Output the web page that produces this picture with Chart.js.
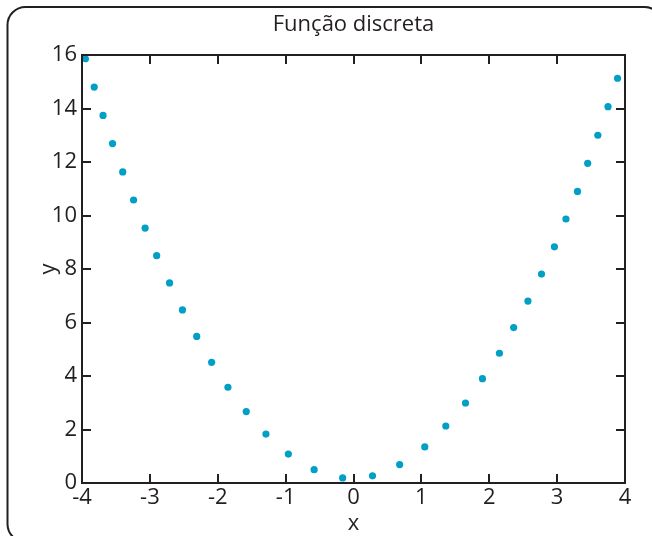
<!DOCTYPE html>
<html>
<head>
<meta charset="utf-8">
<script src="https://cdn.jsdelivr.net/npm/chart.js@4"></script>
<style>
  html, body { margin: 0; padding: 0; background: #ffffff; }
  #wrap { width: 652px; height: 536px; position: relative; }
</style>
</head>
<body>
<div id="wrap"><canvas id="c"></canvas></div>
<script>
const chartTitle = 'Função discreta';
const xAxisTitle = 'x';
const yAxisTitle = 'y';
const xTickValues = [-4, -3, -2, -1, 0, 1, 2, 3, 4];
const yTickValues = [0, 2, 4, 6, 8, 10, 12, 14, 16];
const xValues = [-3.95, -3.82, -3.69, -3.55, -3.40, -3.24, -3.07, -2.90, -2.71, -2.52,
                 -2.31, -2.09, -1.85, -1.58, -1.29, -0.96, -0.58, -0.16, 0.28, 0.68,
                 1.05, 1.36, 1.65, 1.90, 2.15, 2.36, 2.57, 2.77, 2.96, 3.13,
                 3.30, 3.45, 3.60, 3.75, 3.89];
const yValues = [15.86, 14.80, 13.74, 12.69, 11.63, 10.58, 9.53, 8.50, 7.48, 6.47,
                 5.48, 4.51, 3.58, 2.67, 1.83, 1.08, 0.50, 0.19, 0.27, 0.69,
                 1.35, 2.13, 2.99, 3.90, 4.85, 5.81, 6.80, 7.81, 8.83, 9.87,
                 10.90, 11.95, 13.00, 14.07, 15.13];

const INK = '#231f20';
const FONT = "'Open Sans', 'DejaVu Sans', sans-serif";
const FS = 22;
const points = xValues.map((x, i) => ({ x: x, y: yValues[i] }));

const framePlugin = {
  id: 'frame',
  beforeDraw(chart) {
    const ctx = chart.ctx;
    ctx.save();
    ctx.fillStyle = '#ffffff';
    ctx.fillRect(0, 0, chart.width, chart.height);
    ctx.strokeStyle = INK;
    ctx.lineWidth = 2;
    ctx.beginPath();
    ctx.roundRect(7.5, 7, 655, 535, 18);
    ctx.stroke();
    ctx.restore();
  },
  afterDatasetsDraw(chart) {
    const ctx = chart.ctx;
    const { left, right, top, bottom } = chart.chartArea;
    const xs = chart.scales.x, ys = chart.scales.y;
    const tl = 9;
    ctx.save();
    ctx.strokeStyle = INK;
    ctx.lineWidth = 2;
    ctx.beginPath();
    xs.ticks.forEach(t => {
      const px = Math.round(xs.getPixelForValue(t.value));
      ctx.moveTo(px, bottom); ctx.lineTo(px, bottom - tl);
      ctx.moveTo(px, top); ctx.lineTo(px, top + tl);
    });
    ys.ticks.forEach(t => {
      const py = Math.round(ys.getPixelForValue(t.value));
      ctx.moveTo(left, py); ctx.lineTo(left + tl, py);
      ctx.moveTo(right, py); ctx.lineTo(right - tl, py);
    });
    ctx.stroke();
    ctx.strokeRect(left, top, right - left, bottom - top);
    ctx.restore();
  }
};

new Chart(document.getElementById('c'), {
  type: 'scatter',
  data: {
    datasets: [{
      data: points,
      backgroundColor: '#00a0c6',
      borderColor: '#00a0c6',
      pointRadius: 3.6,
      pointBorderWidth: 0,
      pointHoverRadius: 3.6
    }]
  },
  options: {
    responsive: true,
    maintainAspectRatio: false,
    devicePixelRatio: 1,
    animation: false,
    events: [],
    layout: { padding: { left: 0, right: 27, top: 0, bottom: 0 } },
    plugins: {
      legend: { display: false },
      tooltip: { enabled: false },
      title: {
        display: true,
        text: chartTitle,
        fullSize: false,
        color: INK,
        font: { family: FONT, size: FS, weight: 'normal', lineHeight: 1.2 },
        padding: { top: 11.5, bottom: 17.1 }
      }
    },
    scales: {
      x: {
        type: 'linear',
        min: -4, max: 4,
        afterBuildTicks(scale) { scale.ticks = xTickValues.map(v => ({ value: v })); },
        afterFit(scale) { scale.height = 53; },
        grid: { display: false, drawTicks: false },
        border: { display: false },
        ticks: { color: INK, padding: 2, font: { family: FONT, size: FS }, maxRotation: 0, autoSkip: false },
        title: { display: true, text: xAxisTitle, color: INK, padding: { top: 0, bottom: -1 }, font: { family: FONT, size: FS } }
      },
      y: {
        type: 'linear',
        min: 0, max: 16,
        afterBuildTicks(scale) { scale.ticks = yTickValues.map(v => ({ value: v })); },
        afterFit(scale) { scale.width = 82; },
        grid: { display: false, drawTicks: false },
        border: { display: false },
        ticks: { color: INK, padding: 5, font: { family: FONT, size: FS }, autoSkip: false },
        title: { display: true, text: yAxisTitle, color: INK, padding: { top: 36, bottom: 0 }, font: { family: FONT, size: FS } }
      }
    }
  },
  plugins: [framePlugin]
});
</script>
</body>
</html>
